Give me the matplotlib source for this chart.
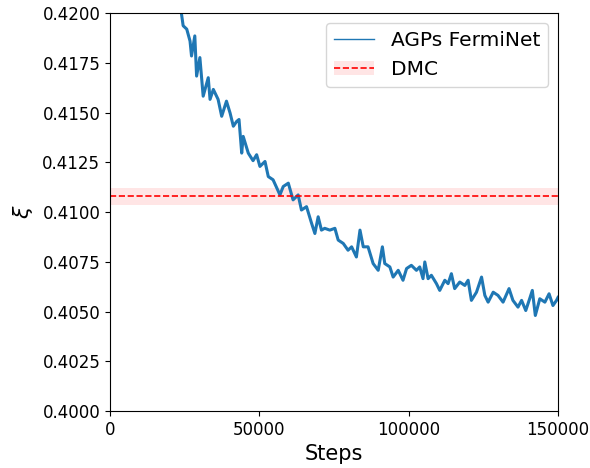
import matplotlib
matplotlib.use("Agg")
import matplotlib.pyplot as plt

# values
steps = [23800, 24500, 25700, 26800, 27300, 28400, 29000, 30100, 31200, 32900,
         33500, 34600, 36200, 37400, 39000, 40200, 41300, 42400, 43200, 44100,
         44600, 46300, 47900, 49100, 50200, 51900, 53000, 54600, 56900, 58000,
         59700, 61300, 63000, 64100, 65800, 67500, 68600, 69700, 70800, 71900,
         73600, 75300, 76400, 78100, 79700, 80900, 82500, 83700, 84800, 86400,
         88100, 89800, 91200, 92000, 93700, 94800, 96500, 98100, 99300, 100900,
         102600, 103700, 104800, 105400, 106500, 107600, 109300, 110400, 112100, 113200,
         114300, 115400, 117100, 118800, 119900, 121000, 122700, 124400, 125500, 126600,
         128300, 129900, 131600, 133600, 134900, 136600, 137800, 139200, 140500, 141400,
         142400, 143900, 145600, 147000, 148300, 149500, 150000]
xi = [0.42010, 0.41936, 0.41919, 0.41859, 0.41784, 0.41885, 0.41683, 0.41776, 0.41582, 0.41675,
      0.41566, 0.41616, 0.41566, 0.41481, 0.41557, 0.41498, 0.41431, 0.41455, 0.41465, 0.41296,
      0.41380, 0.41296, 0.41258, 0.41288, 0.41229, 0.41254, 0.41178, 0.41162, 0.41086, 0.41128,
      0.41145, 0.41061, 0.41086, 0.41010, 0.41027, 0.40943, 0.40892, 0.40976, 0.40909, 0.40918,
      0.40909, 0.40918, 0.40859, 0.40842, 0.40808, 0.40825, 0.40774, 0.40909, 0.40825, 0.40825,
      0.40741, 0.40707, 0.40825, 0.40741, 0.40724, 0.40673, 0.40707, 0.40657, 0.40716, 0.40732,
      0.40707, 0.40724, 0.40665, 0.40749, 0.40665, 0.40682, 0.40640, 0.40606, 0.40657, 0.40640,
      0.40690, 0.40615, 0.40648, 0.40631, 0.40657, 0.40556, 0.40597, 0.40673, 0.40581, 0.40547,
      0.40597, 0.40581, 0.40547, 0.40615, 0.40556, 0.40522, 0.40556, 0.40505, 0.40564, 0.40606,
      0.40480, 0.40564, 0.40547, 0.40589, 0.40530, 0.40556, 0.40571]

dmc = 0.41078
dmc_err = 0.00044

fig = plt.figure(figsize=(5.9, 4.68), dpi=100)
ax = fig.add_axes([0.1864, 0.1218, 0.7594, 0.8504])

line, = ax.plot(steps, xi, color='#1f77b4', linewidth=2.2, label='AGPs FermiNet')
span = ax.axhspan(dmc - dmc_err, dmc + dmc_err, color='red', alpha=0.1, linewidth=0)
dline = ax.axhline(dmc, color='red', linestyle='--', linewidth=1.2)

ax.set_xlim(0, 150000)
ax.set_ylim(0.40, 0.42)
ax.set_yticks([0.4000, 0.4025, 0.4050, 0.4075, 0.4100, 0.4125, 0.4150, 0.4175, 0.4200])
ax.set_yticklabels(['0.4000', '0.4025', '0.4050', '0.4075', '0.4100',
                    '0.4125', '0.4150', '0.4175', '0.4200'])
ax.set_xticks([0, 50000, 100000, 150000])
ax.tick_params(labelsize=12)

ax.set_xlabel('Steps', fontsize=15)
ax.set_ylabel(r'$\xi$', fontsize=16, labelpad=5)

leg = ax.legend([line, (span, dline)], ['AGPs FermiNet', 'DMC'],
                loc='upper right', fontsize=14.5)
leg.get_lines()[0].set_linewidth(1.0)

fig.savefig('out.png', dpi=100)
